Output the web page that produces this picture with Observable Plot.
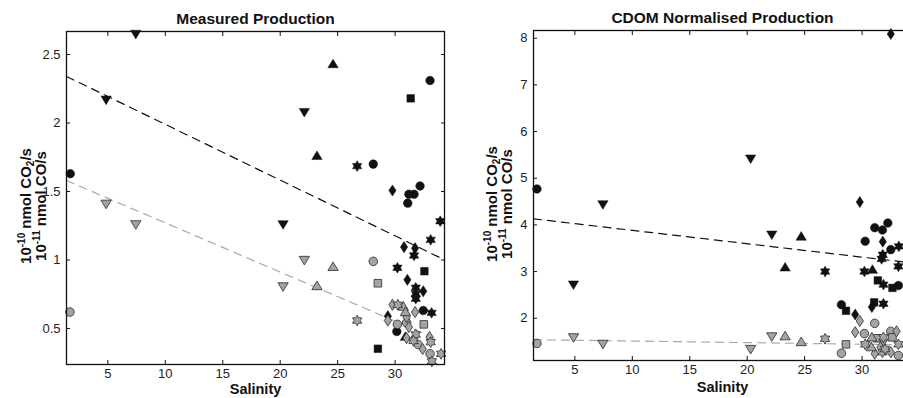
<!DOCTYPE html>
<html><head><meta charset="utf-8">
<script src="https://cdn.jsdelivr.net/npm/d3@7"></script>
<script src="https://cdn.jsdelivr.net/npm/@observablehq/plot@0.6"></script>
<style>
html,body{margin:0;padding:0;background:#fff;overflow:hidden;width:903px;height:398px}
#wrap{position:relative;width:903px;height:398px;overflow:hidden;font-family:"Liberation Sans",Arial,sans-serif}
.panel{position:absolute;top:0}
.ylab{position:absolute;font-weight:bold;font-size:15px;line-height:14.5px;text-align:center;white-space:nowrap;transform:translate(-50%,-50%) rotate(-90deg);color:#111}
.ylab sup{font-size:10px;vertical-align:6px;line-height:0}
.ylab sub{font-size:10px;vertical-align:-3px;line-height:0}
</style>
</head><body><div id="wrap"></div>
<script>
// ---------- data ----------
const panelTitles = ["Measured Production", "CDOM Normalised Production"];
const xLabel = "Salinity";
const salinityTicks = [5, 10, 15, 20, 25, 30];
const measuredTicks = [0.5, 1, 1.5, 2, 2.5];
const normalisedTicks = [2, 3, 4, 5, 6, 7, 8];
const salinityDomain = [1.4, 34.3];
const measuredDomain = [0.237, 2.668];
const normalisedDomain = [1.094, 8.165];

// rows: [salinity, value, marker]
const measuredCO2 = [
  [1.73,1.63,"circle"],[28.1,1.70,"circle"],[33.04,2.31,"circle"],[31.2,1.48,"circle"],[31.65,1.48,"circle"],
  [31.1,1.415,"circle"],[32.17,1.54,"circle"],[30.15,0.478,"circle"],[32.45,0.631,"circle"],
  [7.43,2.65,"triDown"],[4.85,2.17,"triDown"],[22.1,2.08,"triDown"],[20.25,1.26,"triDown"],
  [24.6,2.43,"triUp"],[23.2,1.76,"triUp"],[30.9,0.44,"triUp"],
  [26.7,1.685,"hexagram"],[33.93,1.283,"hexagram"],[33.1,1.147,"hexagram"],[31.65,1.033,"hexagram"],[30.2,0.943,"hexagram"],
  [31.8,0.797,"hexagram"],[31.8,0.753,"hexagram"],[31.8,0.717,"hexagram"],[33.18,0.614,"hexagram"],
  [31.36,2.18,"square"],[32.55,0.918,"square"],[28.5,0.352,"square"],
  [29.77,1.507,"diamond"],[30.78,1.094,"diamond"],[31.74,1.086,"diamond"],[31.07,0.855,"diamond"],[32.45,0.772,"diamond"],[29.37,0.59,"diamond"]
];
const measuredCO = [
  [1.7,0.62,"circle"],[28.1,0.99,"circle"],[31.0,0.542,"circle"],[30.2,0.53,"circle"],[32.0,0.383,"circle"],[33.04,0.315,"circle"],
  [4.85,1.41,"triDown"],[7.43,1.26,"triDown"],[20.25,0.807,"triDown"],[22.1,1.0,"triDown"],
  [24.6,0.95,"triUp"],[23.2,0.81,"triUp"],[30.72,0.66,"triUp"],[30.9,0.62,"triUp"],
  [26.7,0.558,"hexagram"],[30.24,0.673,"hexagram"],[31.8,0.456,"hexagram"],[31.6,0.41,"hexagram"],[33.1,0.40,"hexagram"],[34.0,0.315,"hexagram"],[33.2,0.26,"hexagram"],
  [28.5,0.83,"square"],[32.5,0.53,"square"],
  [29.77,0.673,"diamond"],[31.74,0.62,"diamond"],[29.37,0.558,"diamond"],[31.0,0.583,"diamond"],[31.2,0.51,"diamond"],[31.0,0.43,"diamond"],[33.0,0.437,"diamond"],[32.4,0.35,"diamond"]
];
const normalisedCO2 = [
  [1.7,4.77,"circle"],[28.2,2.29,"circle"],[30.27,3.65,"circle"],[31.1,3.94,"circle"],[31.77,3.89,"circle"],[32.24,4.04,"circle"],[32.5,3.47,"circle"],[33.16,2.70,"circle"],
  [20.3,5.42,"triDown"],[7.44,4.44,"triDown"],[4.88,2.72,"triDown"],[22.14,3.79,"triDown"],
  [24.7,3.75,"triUp"],[23.3,3.09,"triUp"],[30.9,3.04,"triUp"],
  [26.78,3.0,"hexagram"],[33.2,3.54,"hexagram"],[31.8,3.36,"hexagram"],[31.7,3.27,"hexagram"],[33.16,3.11,"hexagram"],[30.2,3.0,"hexagram"],[31.86,2.72,"hexagram"],[31.86,2.31,"hexagram"],
  [28.6,2.16,"square"],[31.37,2.81,"square"],[32.64,2.65,"square"],[31.05,2.34,"square"],
  [32.5,8.09,"diamond"],[29.8,4.49,"diamond"],[31.8,3.64,"diamond"],[30.85,2.24,"diamond"],[29.4,2.08,"diamond"]
];
const normalisedCO = [
  [1.7,1.46,"circle"],[28.2,1.25,"circle"],[31.1,1.89,"circle"],[30.2,1.67,"circle"],[32.5,1.72,"circle"],[33.16,1.2,"circle"],
  [4.88,1.59,"triDown"],[7.44,1.45,"triDown"],[20.3,1.34,"triDown"],[22.14,1.61,"triDown"],
  [23.3,1.615,"triUp"],[24.7,1.49,"triUp"],[30.85,1.59,"triUp"],[30.8,1.38,"triUp"],
  [26.78,1.56,"hexagram"],[30.27,1.44,"hexagram"],[31.86,1.59,"hexagram"],[33.16,1.44,"hexagram"],[31.77,1.27,"hexagram"],[32.0,1.34,"hexagram"],
  [28.6,1.44,"square"],[31.3,1.57,"square"],[32.64,1.59,"square"],
  [29.8,1.94,"diamond"],[29.4,1.70,"diamond"],[33.0,1.72,"diamond"],[31.1,1.24,"diamond"],[32.5,1.27,"diamond"],[31.86,1.52,"diamond"],[31.6,1.38,"diamond"]
];

// linear fits: [intercept, slope, salinity start, salinity end]
const measuredFitCO2 = [2.397, -0.0407, 1.4, 34.3];
const measuredFitCO = [1.630, -0.0359, 1.4, 33.7];
const normalisedFitCO2 = [4.170, -0.0287, 1.4, 34.3];
const normalisedFitCO = [1.545, -0.0034, 1.4, 34.3];

// ---------- symbols ----------
const mk = fn => ({draw(ctx, size) { const r = Math.sqrt(size / Math.PI); fn(ctx, r); }});
const symbols = {
  circle: "circle",
  square: mk((c, r) => { c.rect(-0.88*r, -0.88*r, 1.76*r, 1.76*r); }),
  diamond: mk((c, r) => { c.moveTo(0,-1.3*r); c.lineTo(0.85*r,0); c.lineTo(0,1.3*r); c.lineTo(-0.85*r,0); c.closePath(); }),
  triUp: mk((c, r) => { c.moveTo(0,-1.15*r); c.lineTo(1.2*r,0.85*r); c.lineTo(-1.2*r,0.85*r); c.closePath(); }),
  triDown: mk((c, r) => { c.moveTo(0,1.15*r); c.lineTo(1.2*r,-0.85*r); c.lineTo(-1.2*r,-0.85*r); c.closePath(); }),
  hexagram: mk((c, r) => {
    const R = 1.25*r, ri = R/Math.sqrt(3);
    for (let i = 0; i < 12; i++) {
      const a = -Math.PI/2 + i*Math.PI/6, rr = i % 2 ? ri : R;
      const x = rr*Math.cos(a), y = rr*Math.sin(a);
      i ? c.lineTo(x, y) : c.moveTo(x, y);
    }
    c.closePath();
  })
};
const markerNames = Object.keys(symbols);

function fitLine(f) { return [[f[2], f[0] + f[1]*f[2]], [f[3], f[0] + f[1]*f[3]]]; }

function dots(rows, fill, stroke, sw) {
  return markerNames.map(m => Plot.dot(rows.filter(d => d[2] === m), {
    x: d => d[0], y: d => d[1], symbol: symbols[m], r: 4.3, fill, stroke, strokeWidth: sw
  }));
}

function panel(o) {
  return Plot.plot({
    width: o.width, height: 398,
    marginLeft: o.mL, marginRight: o.mR, marginTop: o.mT, marginBottom: o.mB,
    style: {fontFamily: '"Liberation Sans", Arial, sans-serif', fontSize: "13px", color: "#222", background: "transparent"},
    x: {domain: salinityDomain},
    y: {domain: o.yDomain},
    marks: [
      Plot.axisX(salinityTicks, {anchor: "bottom", tickSize: -4, tickPadding: 8, label: null, tickFormat: d => `${d}`, stroke: "#111", fontSize: 13}),
      Plot.axisX(salinityTicks, {anchor: "top", tickSize: -4, label: null, tickFormat: () => "", stroke: "#111"}),
      Plot.axisY(o.ticks, {anchor: "left", tickSize: -4, tickPadding: 10, label: null, tickFormat: d => `${d}`, stroke: "#111", fontSize: 13}),
      Plot.axisY(o.ticks, {anchor: "right", tickSize: -4, label: null, tickFormat: () => "", stroke: "#111"}),
      Plot.line(fitLine(o.fitCO2), {x: d => d[0], y: d => d[1], stroke: "#111", strokeWidth: 1.2, strokeDasharray: "8,6"}),
      Plot.line(fitLine(o.fitCO), {x: d => d[0], y: d => d[1], stroke: "#aaaaaa", strokeWidth: 1.2, strokeDasharray: "8,6"}),
      ...dots(o.co2, "#111", "#111", 0.5),
      ...dots(o.co, "#a3a3a3", "#2b2b2b", 0.8),
      Plot.frame({stroke: "#111", strokeWidth: 1.3}),
      Plot.text([o.title], {frameAnchor: "top", lineAnchor: "middle", dy: o.titleDy, fontWeight: "bold", fontSize: 15.5, fill: "#111"}),
      Plot.text([xLabel], {frameAnchor: "bottom", lineAnchor: "middle", dy: o.xlabDy, fontWeight: "bold", fontSize: 14.5, fill: "#111"})
    ]
  });
}

const wrap = document.getElementById("wrap");
const left = panel({width: 450, mL: 66, mR: 6, mT: 31, mB: 34, yDomain: measuredDomain, ticks: measuredTicks,
  co2: measuredCO2, co: measuredCO, fitCO2: measuredFitCO2, fitCO: measuredFitCO, title: panelTitles[0], titleDy: -12, xlabDy: 25});
left.classList.add("panel"); left.style.left = "0px";
const right = panel({width: 470, mL: 83, mR: 9, mT: 30, mB: 38, yDomain: normalisedDomain, ticks: normalisedTicks,
  co2: normalisedCO2, co: normalisedCO, fitCO2: normalisedFitCO2, fitCO: normalisedFitCO, title: panelTitles[1], titleDy: -12.5, xlabDy: 27});
right.classList.add("panel"); right.style.left = "450px";
wrap.appendChild(left); wrap.appendChild(right);

const ylabHTML = "10<sup>-10</sup> nmol CO<sub>2</sub>/s<br>10<sup>-11</sup> nmol CO/s";
for (const [cx, cy] of [[33, 206], [499, 204]]) {
  const d = document.createElement("div");
  d.className = "ylab"; d.innerHTML = ylabHTML;
  d.style.left = cx + "px"; d.style.top = cy + "px";
  wrap.appendChild(d);
}
</script>
</body></html>
